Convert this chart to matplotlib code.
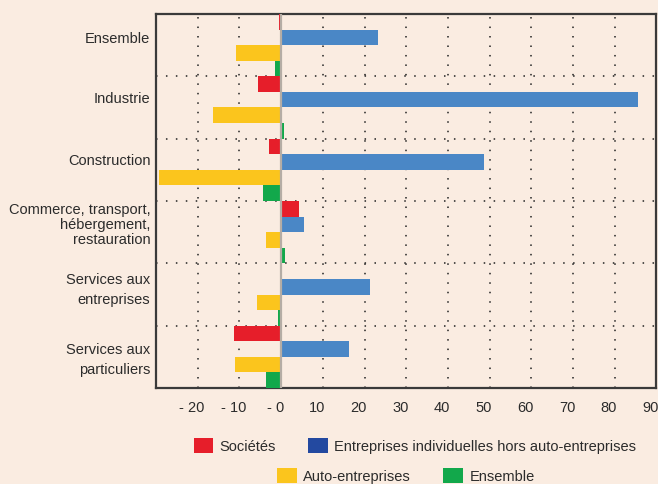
""" évolution des créations d'entreprises par secteur """

import matplotlib
matplotlib.use('Agg')
import matplotlib.pyplot as plt
import matplotlib.transforms as mtransforms
from matplotlib.patches import Patch
import numpy as np

plt.rcParams['font.family'] = ['Liberation Sans', 'DejaVu Sans']

# data (%)
categories = ['Ensemble', 'Industrie', 'Construction',
              'Commerce, transport,\nhébergement,\nrestauration',
              'Services aux\nentreprises', 'Services aux\nparticuliers']
societes = [-0.4, -5.5, -2.9, 4.3, -0.3, -11.4]
entreprises_indiv = [23.3, 85.6, 48.6, 5.5, 21.2, 16.3]
auto_entreprises = [-10.8, -16.3, -29.3, -3.6, -5.8, -11.1]
ensemble = [-1.5, 0.7, -4.4, 0.9, -0.8, -3.6]
xticks = [-20, -10, 0, 10, 20, 30, 40, 50, 60, 70, 80, 90]
xticklabels = ['- 20', '- 10', '- 0', '10', '20', '30', '40', '50', '60', '70', '80', '90']

bg = '#FAECE1'
txt = '#2b2b2b'
colors = ['#E61E2A', '#4A87C6', '#FBC51D', '#12A84B']
legend_colors = ['#E61E2A', '#2349A0', '#FBC51D', '#12A84B']
series = [societes, entreprises_indiv, auto_entreprises, ensemble]
names = ['Sociétés', 'Entreprises individuelles hors auto-entreprises',
         'Auto-entreprises', 'Ensemble']

fig = plt.figure(figsize=(6.58, 4.84), dpi=100, facecolor=bg)
ax = fig.add_axes([0.2371, 0.1983, 0.7606, 0.7728])
ax.set_facecolor(bg)

y = np.arange(len(categories))
h = 0.25
for j, (vals, col) in enumerate(zip(series, colors)):
    ax.barh(y + (j - 1.5) * h, vals, height=h, color=col, zorder=3)

ax.set_xlim(-30, 90)
ax.set_ylim(5.5, -0.5)

# dotted grid: vertical lines every 10, separators between groups
for xv in xticks[:-1]:
    if xv != 0:
        ax.axvline(xv, color='#222222', lw=1.1, ls=(0, (1, 5.2)), zorder=1)
for yv in y[:-1] + 0.5:
    ax.axhline(yv, color='#222222', lw=1.1, ls=(0, (1, 5.5)), zorder=1)
ax.axvline(0, color='#b5ada5', lw=1.6, zorder=4)

fs = 10.5
ax.set_xticks(xticks)
ax.set_xticklabels(xticklabels, fontsize=fs, color=txt)
label_pos = y - np.array([0.12, 0.16, 0.16, 0.15, 0.15, 0.02])
ax.set_yticks(label_pos)
ax.set_yticklabels(categories, fontsize=fs, color=txt)
for lbl in ax.get_yticklabels():
    lines = lbl.get_text().count('\n') + 1
    lbl.set_linespacing(1.1 if lines == 3 else 1.55)
ax.tick_params(length=0, pad=4)
ax.tick_params(axis='x', pad=9)
offset = mtransforms.ScaledTranslation(-6 / 100, 0, fig.dpi_scale_trans)
for lbl in ax.get_xticklabels():
    lbl.set_transform(lbl.get_transform() + offset)

for sp in ax.spines.values():
    sp.set_color('#3a3a3a')
    sp.set_linewidth(1.6)

handles = [Patch(facecolor=c, edgecolor='none') for c in legend_colors]
leg_kw = dict(ncol=2, frameon=False, fontsize=fs, handlelength=1.35,
              handleheight=1.15, handletextpad=0.45, columnspacing=2.2,
              labelcolor=txt)
fig.legend(handles[:2], names[:2], loc='center',
           bbox_to_anchor=(415 / 658, 1 - 446 / 484), **leg_kw)
fig.legend(handles[2:], names[2:], loc='center',
           bbox_to_anchor=(406 / 658, 1 - 476 / 484), **leg_kw)

fig.savefig('out.png', dpi=100, facecolor=bg)
plt.close()
